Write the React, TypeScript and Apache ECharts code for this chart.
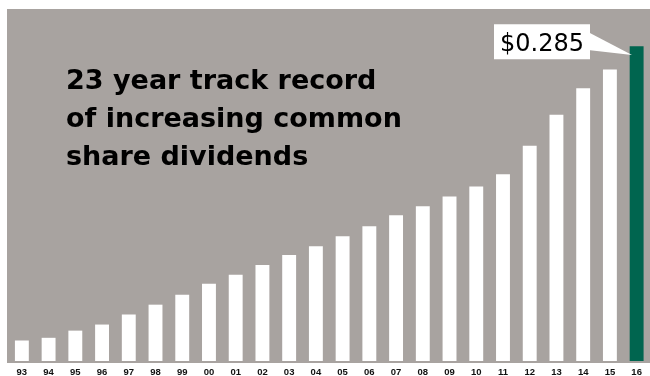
import React, { useEffect, useRef } from "react";
import * as echarts from "echarts";

const years = ["93","94","95","96","97","98","99","00","01","02","03","04","05","06","07","08","09","10","11","12","13","14","15","16"];
const dividends = [0.0185,0.021,0.0275,0.033,0.042,0.051,0.060,0.070,0.078,0.087,0.096,0.104,0.113,0.122,0.132,0.140,0.149,0.158,0.169,0.195,0.223,0.247,0.264,0.285];
const titleLines = ["23 year track record", "of increasing common", "share dividends"];

const GRAY = "#a8a3a0";
const GREEN = "#00654f";

export default function App() {
  const ref = useRef<HTMLDivElement>(null);
  useEffect(() => {
    if (!ref.current) return;
    const chart = echarts.init(ref.current, undefined, { renderer: "svg" });
    const last = dividends.length - 1;
    const callout = "$" + dividends[last].toFixed(3);
    chart.setOption({
      animation: false,
      grid: { left: 8.5, top: 9, width: 646, height: 354 },
      xAxis: {
        type: "category",
        data: years,
        axisLine: { show: false },
        axisTick: { show: false },
        axisLabel: {
          margin: 5,
          fontSize: 9.5,
          fontWeight: "bold",
          color: "#111",
          fontFamily: "Liberation Sans, Arial, sans-serif",
          interval: 0,
        },
      },
      yAxis: { type: "value", min: 0, max: 0.3187, show: false, splitLine: { show: false } },
      series: [
        {
          type: "bar",
          data: dividends.map((v, i) => ({
            value: v,
            itemStyle: { color: i === last ? GREEN : "#ffffff" },
          })),
          barCategoryGap: "48%",
          z: 5,
        },
      ],
      graphic: [
        { type: "rect", z: -10, silent: true, shape: { x: 7, y: 9, width: 643, height: 354 }, style: { fill: GRAY } },
        ...titleLines.map((t, i) => ({
          type: "text",
          z: 50,
          x: 66,
          y: 79.5 + i * 38,
          style: {
            text: t,
            fill: "#000",
            font: "bold 27px 'DejaVu Sans', sans-serif",
            verticalAlign: "middle",
            align: "left",
          },
        })),
        { type: "polygon", z: 50, shape: { points: [[588, 32], [632, 55], [588, 50]] }, style: { fill: "#fff" } },
        { type: "rect", z: 50, shape: { x: 494, y: 24.3, width: 96, height: 35 }, style: { fill: "#fff" } },
        {
          type: "text",
          z: 51,
          x: 500,
          y: 42.5,
          style: {
            text: callout,
            fill: "#000",
            font: "24px 'DejaVu Sans', sans-serif",
            verticalAlign: "middle",
            align: "left",
          },
        },
      ],
    });
    return () => chart.dispose();
  }, []);
  return <div ref={ref} style={{ position: "fixed", left: 0, top: 0, width: 650, height: 376 }} />;
}
